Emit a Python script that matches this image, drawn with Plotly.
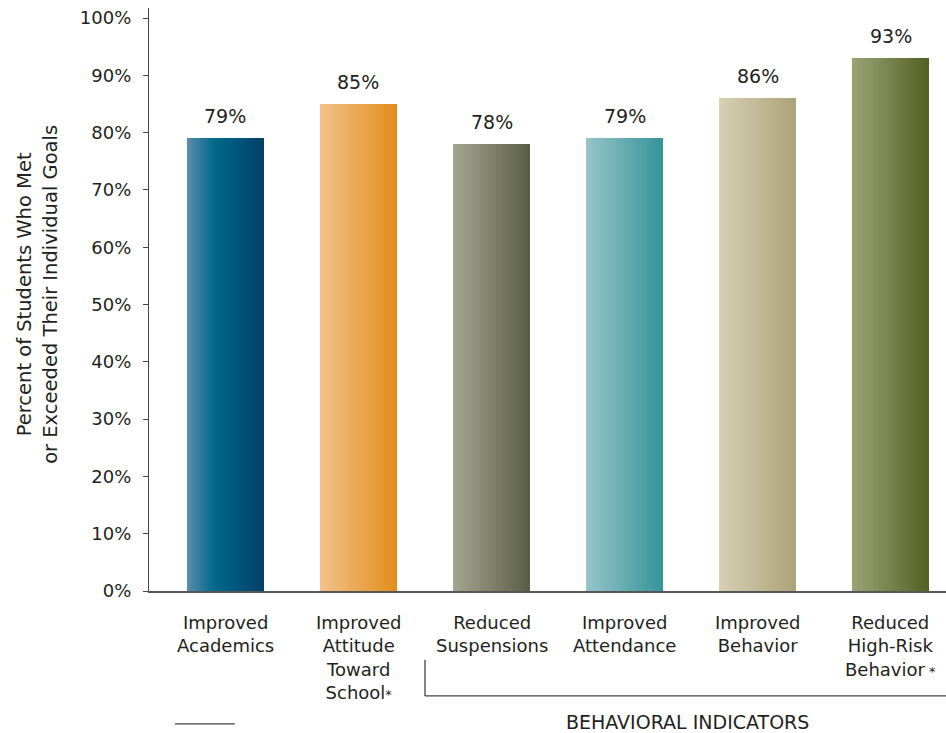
import plotly.graph_objects as go

# ---- data ----
categories = ["Improved<br>Academics",
              "Improved<br>Attitude<br>Toward<br>School<span style=\"font-size:13px\">*</span>",
              "Reduced<br>Suspensions",
              "Improved<br>Attendance",
              "Improved<br>Behavior",
              "Reduced<br>High-Risk<br>Behavior<span style=\"font-size:13px\"> *</span>"]
values = [79, 85, 78, 79, 86, 93]
value_labels = ["79%", "85%", "78%", "79%", "86%", "93%"]
y_tick_vals = [0, 10, 20, 30, 40, 50, 60, 70, 80, 90, 100]
y_tick_text = [f"{v}%" for v in y_tick_vals]
group_label = "BEHAVIORAL INDICATORS"
y_title = "Percent of Students Who Met<br>or Exceeded Their Individual Goals"

# gradient stops per bar (position, color)
gradients = [
    [(0.0, "#5b8cac"), (0.35, "#00698c"), (1.0, "#013f68")],
    [(0.0, "#f2c28c"), (1.0, "#e38c1a")],
    [(0.0, "#a4a590"), (1.0, "#5b5e46")],
    [(0.0, "#98c4ca"), (1.0, "#34939a")],
    [(0.0, "#d6cfb3"), (1.0, "#aca379")],
    [(0.0, "#9ba475"), (1.0, "#546023")],
]

TXT = "#231f20"
FONT = "DejaVu Sans"


def hex2rgb(h):
    h = h.lstrip("#")
    return tuple(int(h[i:i + 2], 16) for i in (0, 2, 4))


def interp(stops, t):
    for (p0, c0), (p1, c1) in zip(stops[:-1], stops[1:]):
        if p0 <= t <= p1:
            f = (t - p0) / (p1 - p0) if p1 > p0 else 0
            a, b = hex2rgb(c0), hex2rgb(c1)
            r = [round(a[i] + (b[i] - a[i]) * f) for i in range(3)]
            return f"rgb({r[0]},{r[1]},{r[2]})"
    return stops[-1][1]


xs = list(range(len(values)))
bar_w = 0.58
N = 48
strip = bar_w / N

fig = go.Figure()
for k in range(N):
    t = (k + 0.5) / N
    cols = [interp(g, t) for g in gradients]
    w = strip * (1.6 if k < N - 1 else 1.0)
    fig.add_trace(go.Bar(
        x=xs, y=values, width=w, offset=-bar_w / 2 + k * strip,
        marker=dict(color=cols, line=dict(width=0)),
        hoverinfo="skip", showlegend=False))

# value labels
for x, v, lab in zip(xs, values, value_labels):
    fig.add_annotation(x=x, y=v, text=lab, showarrow=False, yshift=22,
                       yanchor="middle", font=dict(size=19, color=TXT, family=FONT))

# category labels
for x, c in zip(xs, categories):
    fig.add_annotation(x=x, y=0, yref="y", text=c, showarrow=False, yanchor="top",
                       yshift=-19, align="center",
                       font=dict(size=18, color=TXT, family=FONT))

# y-axis title
fig.add_annotation(xref="paper", yref="paper", x=-0.1405, y=0.508, text=y_title,
                   textangle=-90, showarrow=False, xanchor="center", yanchor="middle",
                   font=dict(size=19.5, color=TXT, family=FONT))

# group bracket
fig.add_shape(type="line", xref="x", yref="paper", x0=1.5, x1=1.5, y0=-0.118, y1=-0.180,
              line=dict(color="#444", width=1.3))
fig.add_shape(type="line", xref="x", yref="paper", x0=1.5, x1=5.42, y0=-0.180, y1=-0.180,
              line=dict(color="#444", width=1.3))
fig.add_shape(type="line", xref="x", yref="paper", x0=-0.38, x1=0.07, y0=-0.228, y1=-0.228,
              line=dict(color="#444", width=1.3))
fig.add_annotation(xref="x", yref="paper", x=3.47, y=-0.224, text=group_label,
                   showarrow=False, xanchor="center", yanchor="middle",
                   font=dict(size=19, color=TXT, family=FONT))

fig.update_layout(
    width=946, height=733,
    margin=dict(l=149, r=0, t=8, b=142),
    paper_bgcolor="white", plot_bgcolor="white",
    barmode="overlay", bargap=0,
    font=dict(family=FONT, color=TXT),
    xaxis=dict(range=[-0.575, 5.417], showticklabels=False, ticks="",
               showgrid=False, zeroline=False, showline=True,
               linecolor="#555", linewidth=1.5),
    yaxis=dict(range=[0, 101.75], tickvals=y_tick_vals, ticktext=y_tick_text,
               ticks="outside", ticklen=5, tickcolor="#444", tickwidth=1,
               showgrid=False, zeroline=False, showline=True,
               linecolor="#444", linewidth=1.3,
               tickfont=dict(size=18, color=TXT, family=FONT),
               ticklabelstandoff=8),
)

fig.write_html("out.html")
